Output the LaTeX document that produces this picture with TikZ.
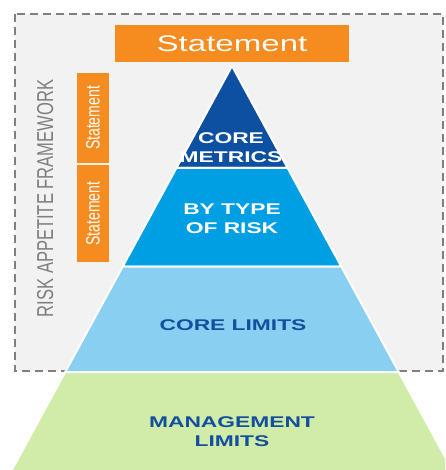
\documentclass[tikz,border=0pt]{standalone}
\usepackage{fontspec}
\setmainfont{Liberation Sans}
\newfontfamily\hfont[FakeStretch=1.47]{Liberation Sans}
\newfontfamily\vfont[FakeStretch=0.72]{Liberation Sans}
\definecolor{ora}{HTML}{F68B1F}
\definecolor{dblue}{HTML}{0D4FA0}
\definecolor{mblue}{HTML}{009FE3}
\definecolor{lblue}{HTML}{88CFF2}
\definecolor{lgreen}{HTML}{D1EBA9}
\definecolor{tblue}{HTML}{124F9E}
\definecolor{fgray}{HTML}{7F7F7F}
\definecolor{bggray}{HTML}{F2F2F2}
\tikzset{
  frame/.style={draw=fgray, fill=bggray, line width=1.6pt, dash pattern=on 8pt off 5pt},
  orangebox/.style={fill=ora, text=white, inner sep=0pt},
  layer/.style={draw=white, line width=2pt, line join=round},
  lab/.style={font=\hfont\bfseries\fontsize{15.5}{19}\selectfont, align=center, inner sep=0pt},
}
\begin{document}
\begin{tikzpicture}[x=1pt,y=-1pt]
\clip (0,0) rectangle (445,470);
\fill[white] (0,0) rectangle (445,470);
% framework box
\draw[frame] (15,14) rectangle (443,371);
% statement boxes
\node[orangebox, minimum width=234pt, minimum height=37pt,
      font=\hfont\fontsize{22.5}{26}\selectfont] (stmt) at (232,43.5) {Statement};
\node[orangebox, rotate=90, minimum width=90pt, minimum height=32pt,
      font=\vfont\fontsize{19.5}{22}\selectfont] (s1) at (93,118) {Statement};
\node[orangebox, rotate=90, minimum width=97pt, minimum height=32pt,
      font=\vfont\fontsize{19.5}{22}\selectfont] (s2) at (93,213.5) {Statement};
\node[rotate=90, text=fgray, inner sep=0pt, anchor=base,
      font=\vfont\fontsize{23}{26}\selectfont] (raf) at (53,198.5) {RISK APPETITE FRAMEWORK};
% pyramid layers
\fill[dblue, layer] (232,66) -- (287.6,168) -- (176.4,168) -- cycle;
\fill[mblue, layer] (176.4,168) -- (287.6,168) -- (341.3,266.5) -- (122.7,266.5) -- cycle;
\fill[lblue, layer] (122.7,266.5) -- (341.3,266.5) -- (398.8,372) -- (65.2,372) -- cycle;
\fill[lgreen, layer] (65.2,372) -- (398.8,372) -- (463.1,490) -- (0.9,490) -- cycle;
% labels
\node[lab, text=white] (cm) at (231,148) {CORE\\METRICS};
\node[lab, text=white] (bt) at (232,218.5) {BY TYPE\\OF RISK};
\node[lab, text=tblue] (cl) at (233,325.5) {CORE LIMITS};
\node[lab, text=tblue] (ml) at (232,432) {MANAGEMENT\\LIMITS};
\end{tikzpicture}
\end{document}
